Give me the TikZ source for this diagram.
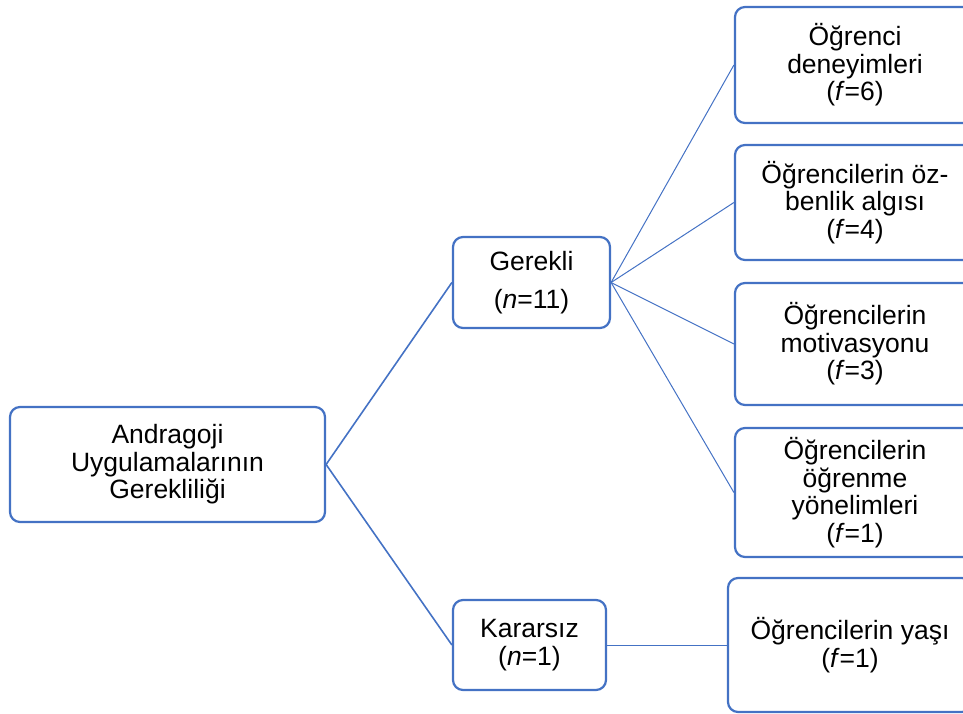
\documentclass[tikz,border=0pt]{standalone}
\usepackage{fontspec}
\setmainfont{Liberation Sans}
\definecolor{bl}{RGB}{68,114,196}
\begin{document}
\begin{tikzpicture}[x=1pt,y=-1pt,
 box/.style={draw=bl, line width=2.2pt, rounded corners=10pt, fill=white, align=center,
   font=\fontsize{26.5}{27.5}\selectfont, inner sep=0pt},
 conn/.style={draw=bl, line width=1pt},
 thick conn/.style={draw=bl, line width=1.6pt}]
\useasboundingbox (0,0) rectangle (963,714);
\clip (0,0) rectangle (963,714);
\node[box, minimum width=315pt, minimum height=115pt] (root) at (167.5,464.5) {Andragoji\\Uygulamalarının\\Gerekliliği};
\node[box, minimum width=157pt, minimum height=91pt] (ger) at (531.5,282.5) {Gerekli\\[11pt](\textit{n}=11)};
\node[box, minimum width=153pt, minimum height=90pt] (kar) at (529.5,645) {Kararsız\\(\textit{n}=1)};
\node[box, minimum width=240pt, minimum height=116pt] (b1) at (855,65) {Öğrenci\\deneyimleri\\(\textit{f}=6)};
\node[box, minimum width=240pt, minimum height=115pt] (b2) at (855,202.5) {Öğrencilerin öz-\\benlik algısı\\(\textit{f}=4)};
\node[box, minimum width=240pt, minimum height=122pt] (b3) at (855,344) {Öğrencilerin\\motivasyonu\\(\textit{f}=3)};
\node[box, minimum width=240pt, minimum height=129pt] (b4) at (855,492.5) {Öğrencilerin\\öğrenme\\yönelimleri\\(\textit{f}=1)};
\node[box, minimum width=244pt, minimum height=134pt] (b5) at (850,645) {Öğrencilerin yaşı\\(\textit{f}=1)};
\draw[thick conn] (root.east) -- (ger.west);
\draw[thick conn] (root.east) -- (kar.west);
\draw[conn] (ger.east) -- (b1.west);
\draw[conn] (ger.east) -- (b2.west);
\draw[conn] (ger.east) -- (b3.west);
\draw[conn] (ger.east) -- (b4.west);
\draw[conn] (kar.east) -- (b5.west);
\end{tikzpicture}
\end{document}
